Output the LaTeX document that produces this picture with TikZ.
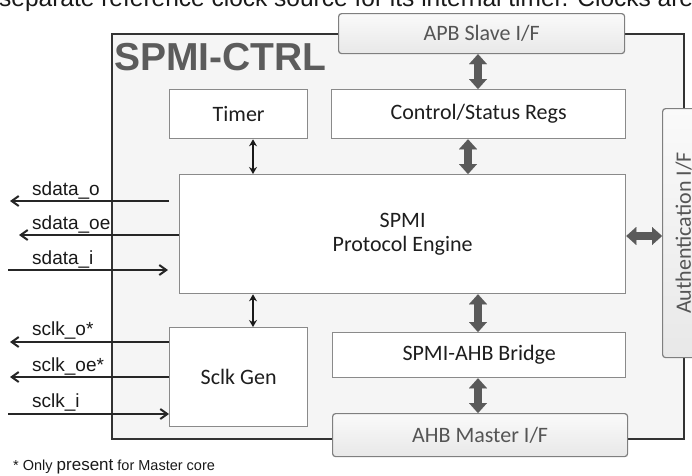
\documentclass[tikz,border=0pt]{standalone}
\usepackage{fontspec}
\setmainfont{Carlito}
\newfontfamily\arialf{Liberation Sans}
\usetikzlibrary{arrows.meta}
\definecolor{outerline}{HTML}{333333}
\definecolor{boxline}{HTML}{8A8A8A}
\definecolor{rline}{HTML}{7F7F7F}
\definecolor{bigarr}{HTML}{5A5A5A}
\definecolor{titlegray}{HTML}{5C5C5C}
\definecolor{ifgray}{HTML}{555555}
\definecolor{txt}{HTML}{1E1E1E}
\begin{document}
\begin{tikzpicture}[x=1pt,y=-1pt,
  inbox/.style={draw=boxline, line width=1.3pt, fill=white, anchor=north west, inner sep=0pt,
    font=\fontsize{22}{24}\selectfont, text=txt, align=center},
  ifbox/.style={draw=rline, line width=1.2pt, rounded corners=3pt, top color=black!2, bottom color=black!9,
    anchor=north west, inner sep=0pt, font=\fontsize{22}{24}\selectfont, text=ifgray},
  bigarrow/.style={draw=bigarr, line width=8pt,
    {Triangle[length=10pt,width=18pt,line width=0.01pt]}-{Triangle[length=10pt,width=18pt,line width=0.01pt]}},
  thinarrow/.style={draw=black!90, line width=1.5pt,
    {Stealth[length=7pt,width=8pt]}-{Stealth[length=7pt,width=8pt]}},
  sig/.style={draw=black!85, line width=2pt, -{Straight Barb[length=7pt,width=10pt]}},
  siglabel/.style={anchor=base west, inner sep=0pt, font=\arialf\fontsize{19}{22}\selectfont, text=black!90}
]
\useasboundingbox (0,0) rectangle (692,475);

% clipped line of text at the top
\node[anchor=base west, inner sep=0pt, font=\arialf\fontsize{24.5}{26}\selectfont, text=black!90] (toptext) at (-1,6.5)
  {separate reference clock source for its internal timer. Clocks are};

% outer block
\node[draw=outerline, line width=2pt, fill=black!4, anchor=north west, inner sep=0pt,
  minimum width=572pt, minimum height=405pt] (ctrlblk) at (111,33) {};
\node[anchor=base west, inner sep=0pt, font=\arialf\bfseries\fontsize{39}{40}\selectfont, text=titlegray] (title) at (114,70) {SPMI-CTRL};

% interface boxes
\node[ifbox, minimum width=286pt, minimum height=40pt] (apb) at (338,13) {APB Slave I/F};
\node[ifbox, minimum width=295pt, minimum height=43pt] (ahb) at (332,413) {AHB Master I/F};
\node[ifbox, minimum width=42pt, minimum height=249pt] (auth) at (662,108) {};
\node[rotate=90, inner sep=0pt, font=\fontsize{22}{24}\selectfont, text=ifgray] (authlbl) at (auth.center) {Authentication I/F};

% inner boxes
\node[inbox, minimum width=138pt, minimum height=49pt] (timer) at (169,89) {Timer};
\node[inbox, minimum width=294pt, minimum height=49pt] (ctrl) at (331,89) {Control/Status Regs};
\node[inbox, minimum width=446pt, minimum height=119pt] (engine) at (179,174) {SPMI\\Protocol Engine};
\node[inbox, minimum width=138pt, minimum height=99pt] (sclk) at (169,327) {Sclk Gen};
\node[inbox, minimum width=293pt, minimum height=45pt] (bridge) at (332,332) {SPMI-AHB Bridge};

% arrow columns
\coordinate (cA) at (478,0);
\coordinate (cB) at (468,0);
\coordinate (cT) at (253,0);
\coordinate (cH) at (0,236);

\draw[bigarrow] (apb.south -| cA) -- (ctrl.north -| cA);
\draw[bigarrow] (ctrl.south -| cB) -- (engine.north -| cB);
\draw[bigarrow] (engine.south -| cA) -- (bridge.north -| cA);
\draw[bigarrow] (bridge.south -| cA) -- (ahb.north -| cA);
\draw[bigarrow] (engine.east |- cH) -- (auth.west |- cH);

\draw[thinarrow] (timer.south -| cT) -- (engine.north -| cT);
\draw[thinarrow] (engine.south -| cT) -- (sclk.north -| cT);

% signals
\coordinate (so1) at (169,201);
\coordinate (so2) at (10,201);
\coordinate (soe) at (19,235);
\coordinate (si1) at (8,270);
\coordinate (si2) at (168,270);
\coordinate (co) at (10,342);
\coordinate (coe) at (10,377);
\coordinate (ci) at (8,414);

\draw[sig] (so1) -- (so2);
\draw[sig] (engine.west |- soe) -- (soe);
\draw[sig] (si1) -- (si2);
\draw[sig] (sclk.west |- co) -- (co);
\draw[sig] (sclk.west |- coe) -- (coe);
\draw[sig] (ci) -- (sclk.west |- ci);

\node[siglabel] (l1) at (32,195) {sdata\_o};
\node[siglabel] (l2) at (32,229) {sdata\_oe};
\node[siglabel] (l3) at (32,264) {sdata\_i};
\node[siglabel] (l4) at (32,335) {sclk\_o*};
\node[siglabel] (l5) at (32,371) {sclk\_oe*};
\node[siglabel] (l6) at (32,407) {sclk\_i};

\node[anchor=base west, inner sep=0pt, font=\arialf\fontsize{14.5}{16}\selectfont, text=black!90] (note) at (13,470)
  {* Only {\fontsize{17}{18}\selectfont present} for Master core};
\end{tikzpicture}
\end{document}
